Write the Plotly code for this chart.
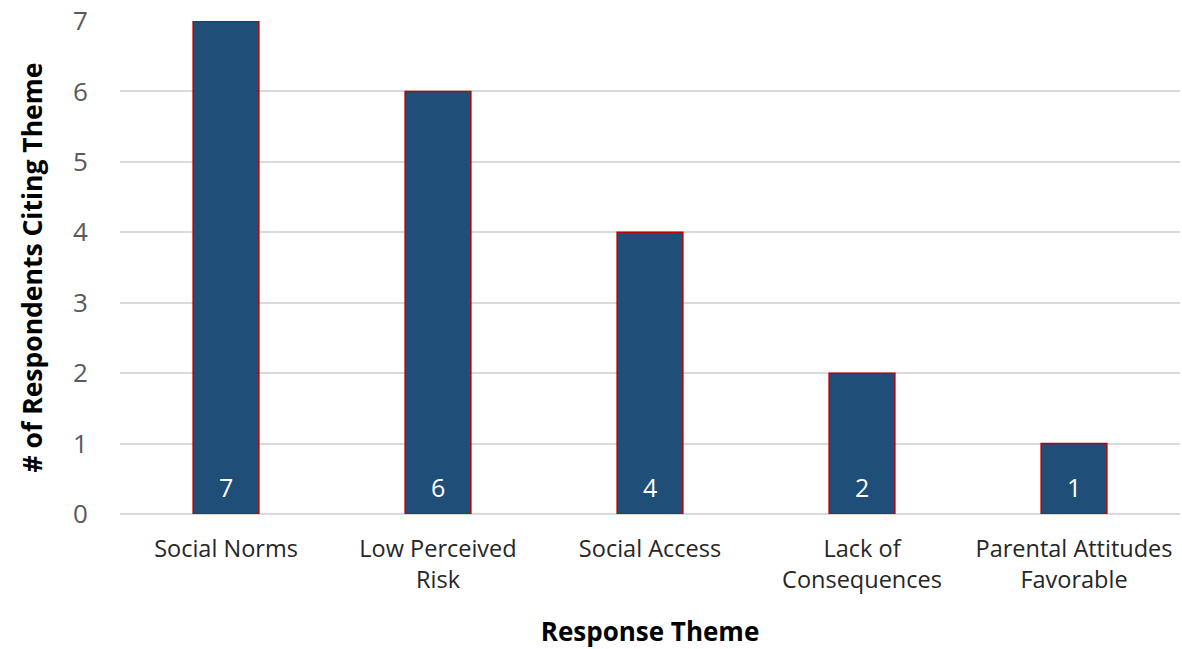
import plotly.graph_objects as go

# Survey response themes and respondent counts
themes = ["Social Norms", "Low Perceived<br>Risk", "Social Access",
          "Lack of<br>Consequences", "Parental Attitudes<br>Favorable"]
counts = [7, 6, 4, 2, 1]
y_ticks = [0, 1, 2, 3, 4, 5, 6, 7]

FONT = "'Open Sans', Lato, sans-serif"

fig = go.Figure(
    go.Bar(
        x=themes,
        y=counts,
        marker=dict(color="#1F4E79", line=dict(color="#C00000", width=1.5)),
    )
)

# Value labels sitting near the base of each bar
for theme, c in zip(themes, counts):
    fig.add_annotation(
        x=theme, y=0, text=str(c), showarrow=False,
        yanchor="middle", yshift=27,
        font=dict(color="white", size=25, family=FONT),
    )

fig.update_layout(
    width=1182,
    height=649,
    margin=dict(l=120, r=2, t=21, b=135),
    plot_bgcolor="white",
    paper_bgcolor="white",
    bargap=0.69,
    showlegend=False,
    font=dict(family=FONT, color="#262626"),
    xaxis=dict(
        title=dict(text="<b>Response Theme</b>", font=dict(size=26, color="black"), standoff=30),
        tickfont=dict(size=23.5, color="#262626"),
        ticks="outside",
        ticklen=14,
        tickcolor="rgba(0,0,0,0)",
        showline=False,
        showgrid=False,
    ),
    yaxis=dict(
        title=dict(text="<b># of Respondents Citing Theme</b>", font=dict(size=26.5, color="black"), standoff=22),
        range=[0, 7],
        tickvals=y_ticks,
        tickfont=dict(size=26, color="#595959"),
        ticks="outside",
        ticklen=26,
        tickcolor="rgba(0,0,0,0)",
        showgrid=True,
        gridcolor="#D9D9D9",
        gridwidth=1.5,
        zeroline=True,
        zerolinecolor="#D9D9D9",
        zerolinewidth=1.5,
    ),
)

fig.write_html("out.html")
